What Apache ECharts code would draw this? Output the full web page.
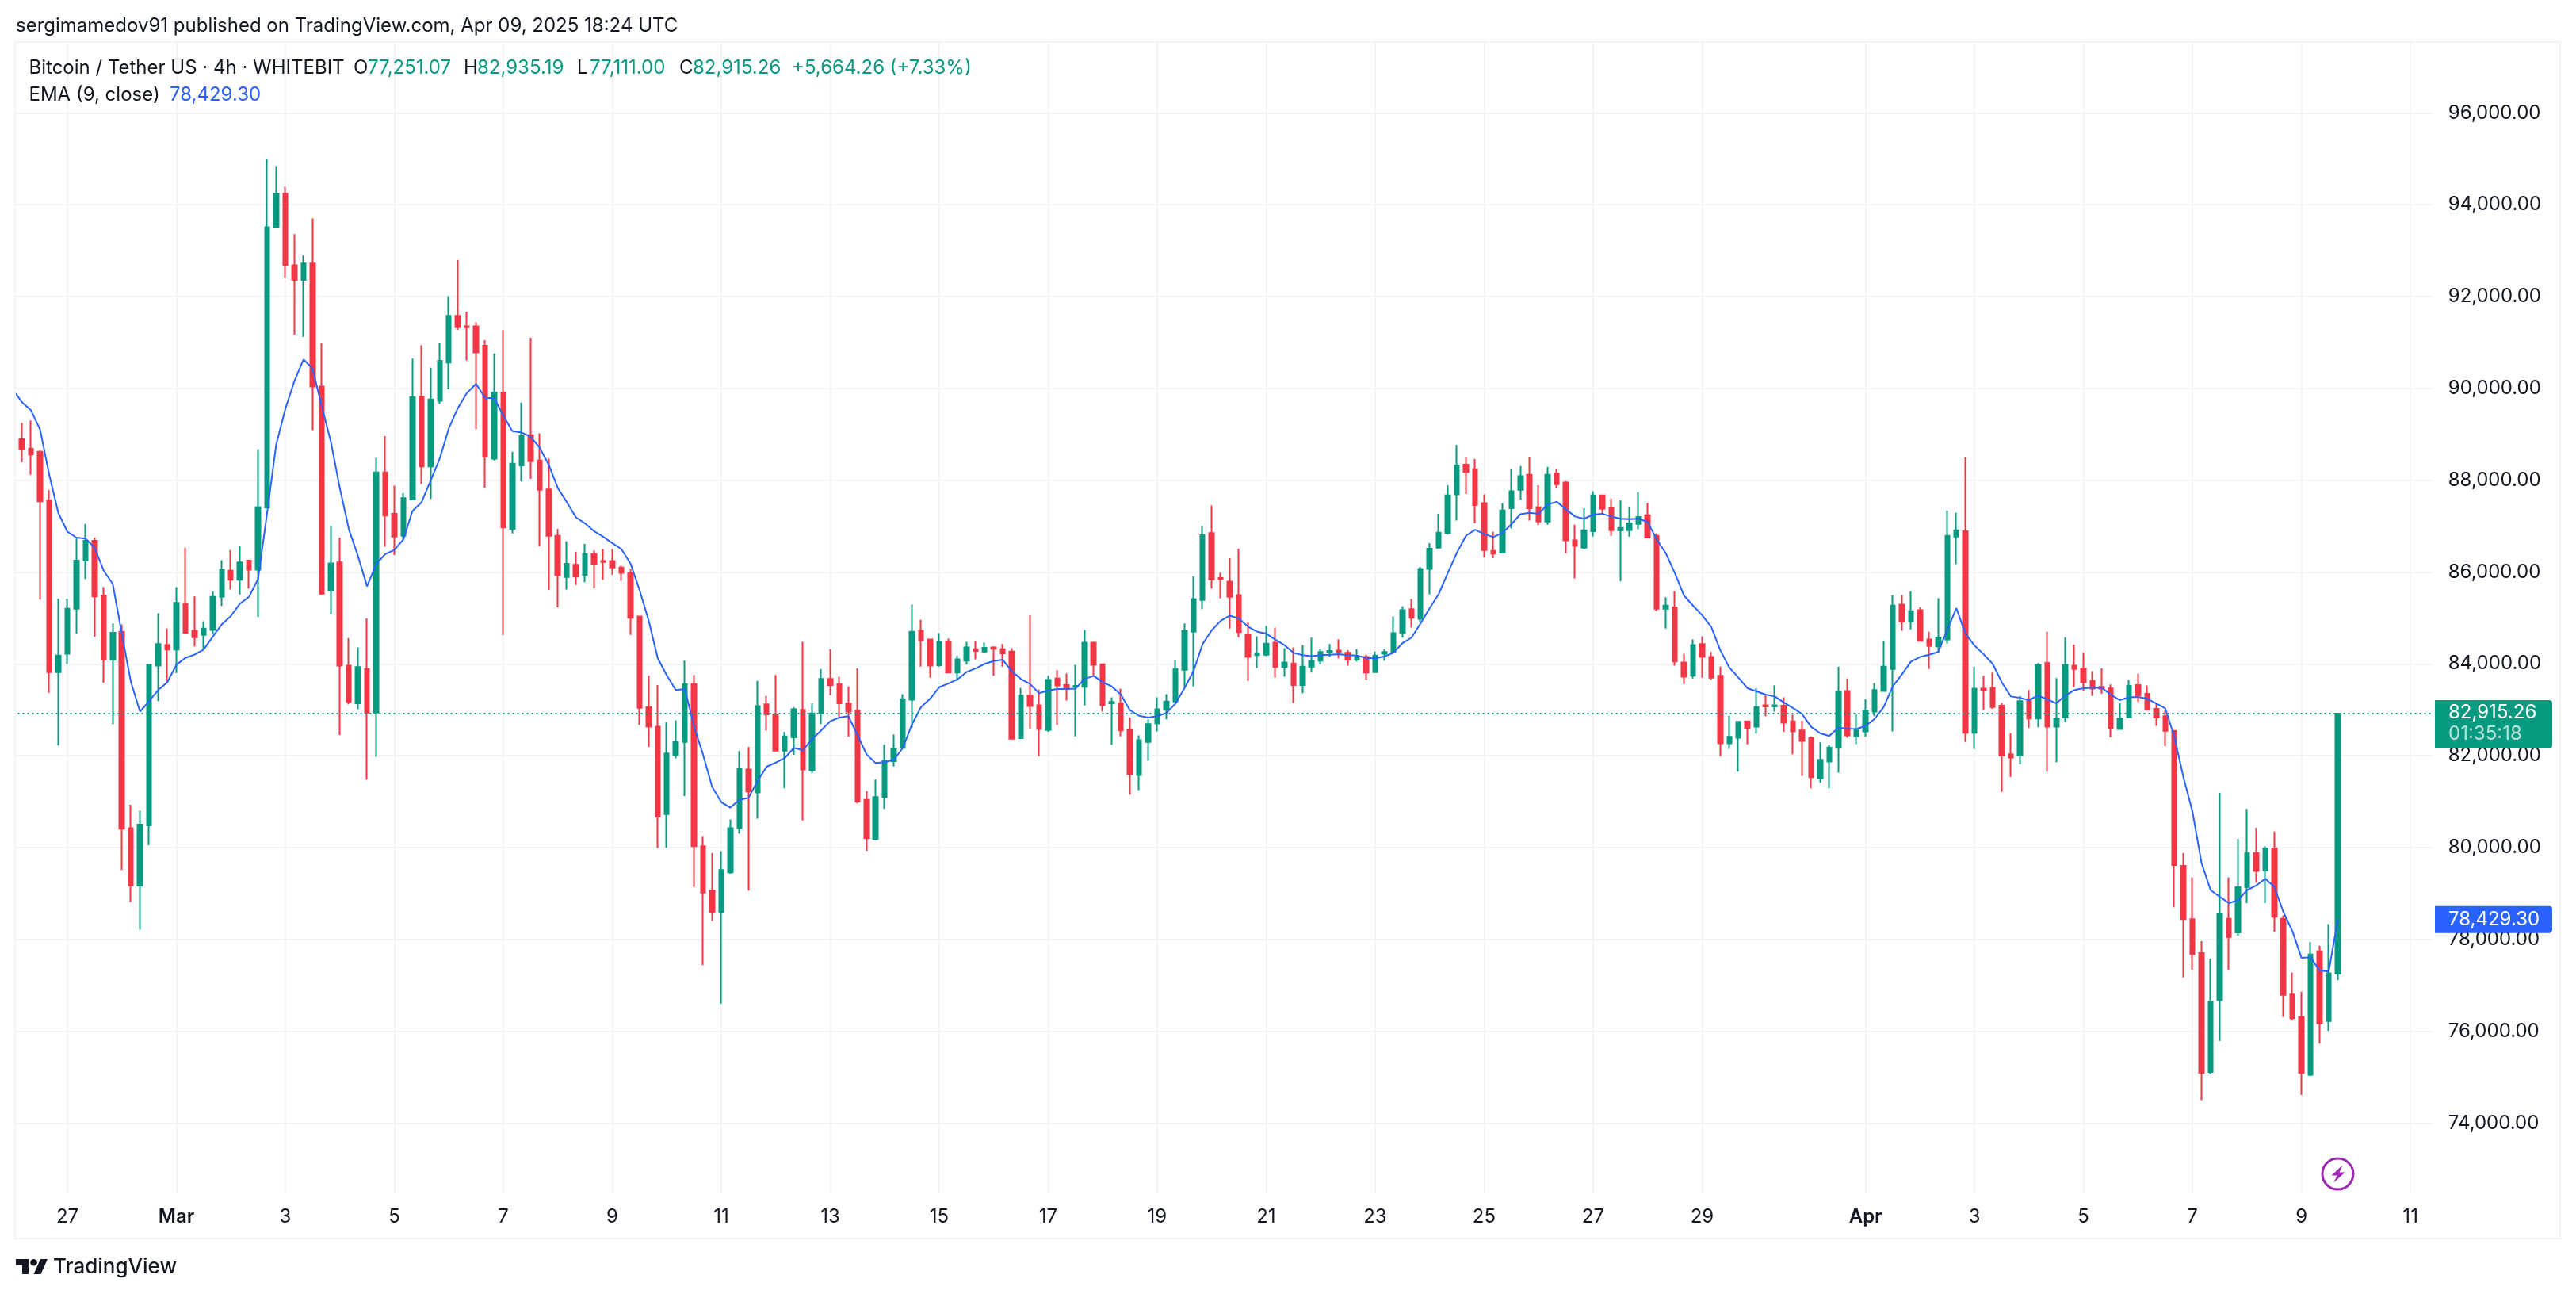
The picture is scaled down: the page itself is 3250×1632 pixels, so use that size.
<!DOCTYPE html>
<html>
<head>
<meta charset="utf-8">
<title>BTCUSDT 4h</title>
<script src="https://cdn.jsdelivr.net/npm/echarts@6/dist/echarts.min.js"></script>
<style>
html, body { margin: 0; padding: 0; background: #fff; }
#main { width: 3250px; height: 1632px; }
</style>
</head>
<body>
<div id="main"></div>
<script>
// 4h candles. first one is Feb 26 04:00 UTC
var opens = [
88890,88690,88620,87560,83820,84220,85200,86250,86680,85490,
84090,84700,80420,79170,80480,83960,84410,84310,85310,84720,
84630,84740,85460,86030,85830,86250,86050,87400,93510,94240,
92680,92360,92720,90040,85600,86210,83960,83140,83890,82940,
88170,87270,86790,87580,89820,88300,89730,90560,91580,91350,
91350,90930,88470,89910,86940,88320,88980,88430,87800,86790,
85890,86160,85940,86390,86240,86240,86100,85980,85030,83060,
82630,80730,82010,82300,83560,80030,79060,78590,79460,80420,
81700,81200,83120,82900,82110,82400,83000,81680,82920,83670,
83560,83140,82980,81040,80190,81100,81880,82170,83220,84720,
84530,83970,84490,83810,84070,84320,84270,84360,84320,84270,
82380,83310,83100,82560,83680,83540,83500,83500,84460,83990,
83140,83140,82560,81580,82300,82700,83000,83180,83870,84700,
85390,86850,85870,85790,85500,84630,84190,84200,84460,83930,
84010,83540,83930,84070,84260,84290,84240,84090,84150,83820,
84220,84260,84670,85190,84980,86070,86530,86850,87690,88340,
88240,87500,86460,86420,87390,87790,88120,87410,87100,88150,
87950,86690,86530,86890,87670,87390,86910,86910,87050,87240,
86790,85200,85230,84030,83740,84430,84150,83740,82270,82390,
82750,82630,83100,83070,83090,82750,82550,82390,81510,81870,
82170,83410,82420,82530,82960,83410,83890,85290,84920,85170,
84530,84380,84530,86770,86890,82500,83460,83480,83090,82030,
82000,83230,82810,84020,82630,82830,83960,83900,83630,83500,
83470,82580,82830,83540,83350,83020,82860,82540,79600,78440,
77700,75110,76680,78450,78150,79140,79880,79500,79980,78450,
76800,76310,75050,77740,76220,77251.07
];
var closes = [
88670,88560,87540,83820,84180,85200,86250,86680,85470,84090,
84680,80410,79170,80500,83980,84430,84310,85330,84680,84580,
84770,85460,86050,85830,86210,86050,87410,93510,94240,92680,
92360,92720,90040,85530,86190,83960,83170,83930,82940,88170,
87230,86770,87610,89810,88300,89760,90600,91580,91330,91330,
90780,88510,89910,86970,88360,88960,88410,87790,86790,85930,
86180,85900,86390,86180,86220,86100,85980,85000,83040,82630,
80670,82050,82300,83560,80030,79020,78590,79510,80420,81720,
81220,83080,82900,82110,82420,83010,81700,82920,83670,83540,
83140,82960,81000,80200,81100,81890,82150,83230,84700,84510,
83960,84480,83810,84100,84360,84280,84350,84330,84230,82370,
83310,83080,82580,83650,83530,83450,83520,84460,83980,83100,
83170,82550,81600,82340,82690,83010,83180,83890,84720,85410,
86800,85840,85850,85460,84690,84150,84220,84440,83930,84030,
83540,83940,84070,84260,84280,84260,84090,84150,83810,84180,
84260,84670,85170,85000,86070,86510,86860,87670,88320,88180,
87460,86480,86400,87340,87760,88090,87390,87100,88120,87910,
86690,86570,86910,87670,87380,86910,86960,87060,87200,86750,
85200,85270,84050,83720,84410,84150,83700,82270,82410,82740,
82600,83060,83070,83100,82720,82530,82320,81530,81910,82180,
83390,82440,82550,82980,83430,83940,85270,84920,85150,84500,
84390,84570,86790,86910,82500,83460,83430,83060,82000,81960,
83190,82810,83980,82630,82810,83980,83890,83600,83460,83460,
82600,82810,83520,83310,83000,82830,82540,79620,78440,77680,
75090,76650,78550,78050,79140,79880,79490,79980,78490,76790,
76280,75090,77670,76170,77260,82915.26
];
var lows = [
88390,88120,85400,83370,82220,84000,84660,85850,84590,83590,
82690,79510,78810,78210,80050,83190,83590,83800,84680,84380,
84310,84650,85260,85620,85510,85640,85020,87400,93500,92410,
91170,91120,89090,85500,85080,82450,83120,83010,81480,81970,
86550,86370,86700,87580,87920,87590,89660,89980,91270,90610,
89110,87840,88430,84630,86840,87970,88030,86560,85610,85230,
85620,85720,85780,85650,85830,85940,85810,84630,82670,82190,
79990,80000,81940,81120,79140,77440,78400,76600,79430,80300,
79060,80630,82550,82100,81290,82020,80590,81620,82690,83320,
82840,82410,80960,79930,80180,80840,81770,82160,82610,83940,
83700,83940,83800,83630,83990,84100,84240,83740,83940,82350,
82380,82580,81990,82520,82670,83200,82420,83100,83720,82960,
82240,82420,81150,81250,81890,82530,82790,83170,83480,83510,
85190,85640,85430,84770,84580,83630,83910,84170,83700,83720,
83150,83360,83810,83990,84150,84120,83960,84050,83650,83800,
84070,84240,84570,84790,84920,85510,86520,86820,87120,87700,
87060,86320,86300,86400,86950,87580,87120,87020,87030,87820,
86410,85860,86500,86770,87250,86790,85800,86770,86930,86740,
85150,84770,83960,83560,83680,83700,83650,81990,82150,81650,
82250,82480,82860,82960,82520,82030,81560,81290,81410,81290,
81630,82390,82250,82410,82860,83410,82530,84720,84750,84490,
83890,84240,84440,86170,82300,82150,83000,83020,81210,81540,
81810,82600,82620,81650,81860,82730,83500,83410,83300,83350,
82400,82570,82820,83170,82990,82650,82210,78700,77170,77340,
74500,75070,75790,77330,78080,78790,79230,78790,78170,76310,
76240,74610,75020,75730,76010,77111.00
];
var highs = [
89250,89300,88650,87790,85420,85420,86750,87050,86750,85670,
84880,84860,80930,80800,83990,85100,84770,85670,86530,85470,
84930,85580,86260,86480,86570,86260,88670,95000,94840,94390,
93360,92900,93700,90990,87000,86750,84560,84360,84990,88490,
88960,87880,87720,90650,90940,90450,91000,92010,92800,91670,
91440,91050,90760,91270,88620,89690,91100,89020,88470,86940,
86670,86440,86610,86470,86500,86500,86140,86070,85040,83740,
83540,82730,82770,84070,83760,80250,79880,79920,80610,82100,
82190,83630,83300,83760,82520,83060,84480,83140,83890,84320,
83720,83510,83900,81230,81480,82240,82460,83340,85290,84960,
84540,84670,84550,84180,84480,84500,84460,84380,84430,84340,
83480,85060,83440,83740,83860,83790,83980,84740,84480,84000,
83270,83460,82830,82440,82790,83270,83340,84090,84880,85910,
87000,87450,85990,86300,86510,84910,84600,84830,84790,84340,
84360,84410,84570,84320,84430,84530,84300,84320,84200,84270,
84320,85030,85250,85410,86110,86630,87270,87890,88770,88510,
88460,87690,86880,87500,88240,88310,88510,87890,88290,88240,
87980,87030,87390,87760,87680,87600,87560,87410,87740,87500,
86840,85450,85580,84220,84530,84600,84260,83940,82870,82750,
82760,83470,83330,83530,83270,82890,82760,82420,82290,82240,
83940,83680,82900,83230,83580,84500,85500,85500,85580,85230,
84700,85430,87340,87290,88500,83940,83740,83810,83150,82490,
83300,83430,84020,84700,83690,84580,84420,84240,83840,83900,
83550,83140,83650,83790,83530,83150,82980,82550,79880,79350,
77960,77580,81190,79350,80190,80840,80430,80030,80350,78520,
77280,76860,77940,77860,78330,82935.19
];
// ema starts one bar earlier (Feb 26 00:00), the line runs in from the left edge
var ema = [
89970,
89700,89520,89100,88120,87290,86880,86750,86730,86530,86030,
85740,84650,83600,82960,83190,83430,83600,83980,84130,84200,
84310,84590,84860,85040,85310,85460,85850,87290,88780,89550,
90160,90630,90430,89620,88850,87830,86930,86350,85690,86170,
86390,86480,86710,87330,87520,87990,88470,89130,89570,89900,
90100,89790,89790,89410,89070,89040,88950,88710,88340,87830,
87520,87190,87060,86890,86770,86630,86500,86190,85610,84950,
84130,83750,83430,83450,82640,82020,81320,80990,80870,81040,
81080,81450,81760,81850,81950,82170,82120,82360,82550,82750,
82830,82860,82450,82030,81840,81860,81910,82170,82680,83060,
83240,83490,83570,83660,83820,83900,84000,84060,84090,83840,
83670,83560,83360,83420,83450,83450,83460,83670,83740,83600,
83510,83330,82990,82870,82830,82860,82930,83130,83470,83840,
84430,84730,84940,85050,84990,84810,84700,84660,84530,84410,
84240,84190,84170,84190,84200,84210,84190,84180,84130,84120,
84160,84240,84450,84570,84880,85210,85520,85980,86420,86790,
86920,86830,86760,86850,87040,87260,87290,87270,87470,87530,
87370,87210,87160,87250,87270,87210,87160,87150,87160,87090,
86710,86410,85980,85490,85270,85060,84810,84300,83920,83700,
83470,83400,83330,83290,83160,83040,82910,82630,82490,82430,
82610,82590,82580,82650,82800,83060,83510,83770,84050,84150,
84200,84260,84740,85210,84660,84400,84210,84000,83600,83290,
83260,83210,83310,83230,83140,83310,83430,83470,83480,83480,
83330,83210,83270,83280,83240,83140,83030,82420,81530,80780,
79660,79070,78930,78790,78850,79070,79170,79320,79150,78600,
78180,77600,77610,77320,77300,78429.30
];

// date ticks on the time scale
var tickDates = ['02-27','03-01','03-03','03-05','03-07','03-09','03-11','03-13','03-15','03-17','03-19',
    '03-21','03-23','03-25','03-27','03-29','04-01','04-03','04-05','04-07','04-09','04-11'];
var tickLabels = ['27','Mar','3','5','7','9','11','13','15','17','19','21','23','25','27','29','Apr','3','5','7','9','11'];

var lastPrice = 82915.26;
var lastEma = 78429.30;
var countdown = '01:35:18';
var publishedText = 'sergimamedov91 published on TradingView.com, Apr 09, 2025 18:24 UTC';

var GREEN = '#089981', RED = '#F23645', BLUE = '#2962FF', TEXT = '#131722', GRID = '#F3F4F6';
var FONT = 'Inter';

// 1 bar before the first candle, 256 candles, then the empty bars on the right
var categories = [];
var start = Date.UTC(2025, 1, 26, 0);
for (var i = 0; i < 267; i++) {
    var d = new Date(start + i * 4 * 3600 * 1000);
    var md = ('0' + (d.getUTCMonth() + 1)).slice(-2) + '-' + ('0' + d.getUTCDate()).slice(-2);
    categories.push(md + ' ' + ('0' + d.getUTCHours()).slice(-2));
}

var candles = ['-'].concat(opens.map(function (o, i) {
    return [o, closes[i], lows[i], highs[i]];
}));

var gridLines = tickDates.map(function (t) {
    return [{ xAxis: t + ' 00', yAxis: 72465 }, { xAxis: t + ' 00', yAxis: 97525 }];
});

function money(v) {
    return v.toLocaleString('en-US', { minimumFractionDigits: 2, maximumFractionDigits: 2 });
}

var myChart = echarts.init(document.getElementById('main'));

option = {
    animation: false,
    backgroundColor: '#fff',
    textStyle: { fontFamily: FONT },
    grid: { left: 10.51, top: 26.5, width: 3059.26, height: 1505.7 },
    xAxis: {
        type: 'category',
        data: categories,
        axisLine: { show: false },
        axisTick: { show: false },
        splitLine: { show: false },
        axisLabel: {
            margin: 3,
            verticalAlign: 'middle',
            color: TEXT,
            fontFamily: FONT,
            fontSize: 24,
            interval: function (index, value) {
                return tickDates.indexOf(value.slice(0, 5)) >= 0 && value.slice(6) === '00';
            },
            formatter: function (value) {
                var label = tickLabels[tickDates.indexOf(value.slice(0, 5))];
                return (label === 'Mar' || label === 'Apr') ? '{b|' + label + '}' : label;
            },
            rich: { b: { fontWeight: 600, fontSize: 24, fontFamily: FONT, color: TEXT } }
        }
    },
    yAxis: {
        type: 'value',
        position: 'right',
        min: 72000,
        max: 98000,
        interval: 2000,
        axisLine: { show: false },
        axisTick: { show: false },
        splitLine: { show: true, showMinLine: false, showMaxLine: false, lineStyle: { color: GRID, width: 2 } },
        axisLabel: {
            margin: 19,
            color: TEXT,
            fontFamily: FONT,
            fontSize: 24,
            showMinLabel: false,
            showMaxLabel: false,
            formatter: function (v) { return money(v); }
        }
    },
    series: [
        {
            // vertical grid on the date ticks
            name: 'grid',
            type: 'line',
            data: [],
            z: 1,
            markLine: {
                silent: true,
                z: 1,
                symbol: 'none',
                animation: false,
                label: { show: false },
                lineStyle: { color: GRID, width: 2, type: 'solid' },
                data: gridLines
            }
        },
        {
            name: 'BTCUSDT',
            type: 'candlestick',
            z: 2,
            barWidth: 6,
            data: candles,
            itemStyle: {
                color: GREEN,
                color0: RED,
                borderColor: GREEN,
                borderColor0: RED,
                borderWidth: 2
            },
            markLine: {
                silent: true,
                symbol: 'none',
                animation: false,
                label: { show: false },
                lineStyle: { color: GREEN, width: 2, type: [2, 4] },
                data: [{ yAxis: lastPrice }]
            }
        },
        {
            name: 'EMA (9, close)',
            type: 'line',
            z: 3,
            data: ema,
            showSymbol: false,
            symbol: 'none',
            lineStyle: { color: BLUE, width: 2 }
        }
    ]
};
myChart.setOption(option);

// texts, price tags and logo. tags take their height from the y scale
var pad = 3089;
var legendRow = [
    ['Bitcoin / Tether US · 4h · WHITEBIT', 36.5, TEXT],
    ['O', 446, TEXT], ['77,251.07', 464, GREEN],
    ['H', 585, TEXT], ['82,935.19', 602, GREEN],
    ['L', 728, TEXT], ['77,111.00', 744, GREEN],
    ['C', 857, TEXT], ['82,915.26', 874, GREEN],
    ['+5,664.26 (+7.33%)', 999, GREEN]
];

function label(text, x, y, color, size, weight) {
    return {
        type: 'text', x: x, y: y, z: 20, silent: true,
        style: { text: text, fill: color, font: (weight || 400) + ' ' + (size || 24) + 'px ' + FONT, verticalAlign: 'middle', align: 'left' }
    };
}

var yLast = myChart.convertToPixel({ yAxisIndex: 0 }, lastPrice);
var yEma = myChart.convertToPixel({ yAxisIndex: 0 }, lastEma);
var xLast = myChart.convertToPixel({ xAxisIndex: 0 }, categories[256]);

var graphics = [
    // plot starts one bar left of the frame, mask that strip
    { type: 'rect', z: 10, silent: true, shape: { x: 0, y: 40, width: 19, height: 1500 }, style: { fill: '#fff' } },
    { type: 'rect', z: 11, silent: true, shape: { x: 19, y: 53, width: 3211, height: 1509 },
        style: { fill: 'none', stroke: GRID, lineWidth: 2 } },
    label(publishedText, 20, 33, TEXT, 24),
    label('EMA (9, close)', 36.5, 120, TEXT, 24),
    label(money(lastEma), 214, 120, BLUE, 24),
    // last price tag
    { type: 'rect', z: 20, silent: true, shape: { x: 3072, y: yLast - 17, width: 148, height: 61, r: [0, 4, 4, 0] }, style: { fill: GREEN } },
    label(money(lastPrice), pad, yLast - 1, '#fff', 24),
    label(countdown, pad, yLast + 26, 'rgba(255,255,255,0.7)', 24),
    // ema tag
    { type: 'rect', z: 20, silent: true, shape: { x: 3072, y: yEma - 17, width: 148, height: 34, r: [0, 4, 4, 0] }, style: { fill: BLUE } },
    label(money(lastEma), pad, yEma, '#fff', 24),
    // bolt icon under the last candle
    { type: 'circle', z: 20, silent: true, shape: { cx: xLast, cy: 1480.6, r: 19.5 }, style: { fill: '#fff', stroke: '#9C27B0', lineWidth: 3 } },
    { type: 'polygon', z: 21, silent: true, x: xLast, y: 1480.6,
        shape: { points: [[6, -11], [-8, 2], [-1, 2], [-5, 11], [9, -2], [2, -2]] }, style: { fill: '#9C27B0' } },
    // logo
    { type: 'polygon', z: 20, silent: true,
        shape: { points: [[20, 1588], [36, 1588], [36, 1607], [28, 1607], [28, 1595.5], [20, 1595.5]] }, style: { fill: TEXT } },
    { type: 'polygon', z: 20, silent: true,
        shape: { points: [[42.5, 1607], [51.5, 1607], [60, 1588], [51, 1588]] }, style: { fill: TEXT } },
    { type: 'circle', z: 20, silent: true, shape: { cx: 42.5, cy: 1592.2, r: 4.3 }, style: { fill: TEXT } },
    label('TradingView', 67, 1598, TEXT, 26, 500)
];
legendRow.forEach(function (r) {
    graphics.push(label(r[0], r[1], 86, r[2], 24));
});
myChart.setOption({ graphic: graphics });
</script>
</body>
</html>
